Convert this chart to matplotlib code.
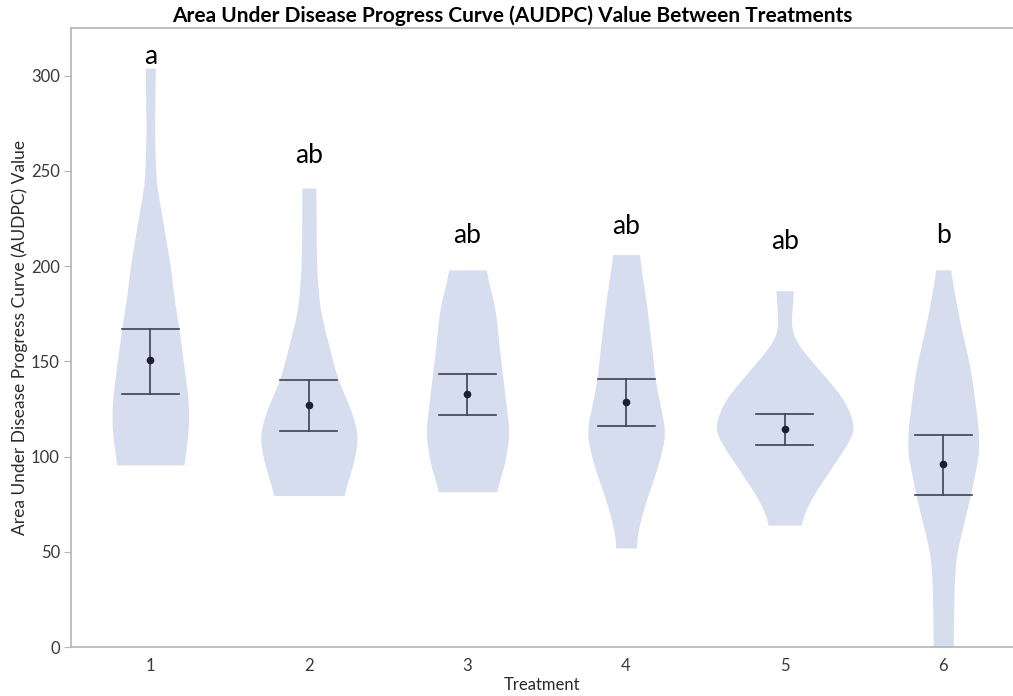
import numpy as np
import matplotlib
matplotlib.use("Agg")
import matplotlib.pyplot as plt

# Treatments and summary statistics (AUDPC)
treatments = [1, 2, 3, 4, 5, 6]
means = [150.5, 127.0, 133.0, 128.5, 114.5, 96.0]
upper = [167.0, 140.0, 143.5, 140.5, 122.5, 111.5]
lower = [133.0, 113.5, 122.0, 116.0, 106.0, 80.0]
letters = ["a", "ab", "ab", "ab", "ab", "b"]
letter_y = [306, 254, 212, 217, 209, 212]

# Density profiles for each violin: AUDPC value and relative half-width
t1_vals = [95.6, 103.5, 117.7, 129.8, 150, 167, 182, 200, 226, 244, 270, 304]
t1_dens = [33, 36, 38.7, 38, 33, 28.7, 24, 20, 11.7, 5.7, 4.2, 5]
t2_vals = [79.5, 93, 110.5, 125, 140, 156, 177, 200, 241]
t2_dens = [34, 43, 50, 42, 29, 21, 11, 7.5, 7]
t3_vals = [81.5, 95, 112, 130, 156, 177, 190, 198]
t3_dens = [28, 37, 42, 38, 32, 28, 22, 18]
t4_vals = [52, 60, 77, 95, 112, 140, 156, 182, 206]
t4_dens = [10, 11, 20, 32, 40, 29, 26, 20, 13]
t5_vals = [64, 77, 95, 114, 130, 147, 158, 165, 175, 187]
t5_dens = [15, 25, 48, 72, 60, 32, 14, 6, 7, 9]
t6_vals = [0, 31.5, 49, 75.7, 102, 115.6, 145.5, 172, 198]
t6_dens = [10, 10.7, 13, 25.5, 36, 35, 27.5, 16, 7]

profiles = [(t1_vals, t1_dens), (t2_vals, t2_dens), (t3_vals, t3_dens),
            (t4_vals, t4_dens), (t5_vals, t5_dens), (t6_vals, t6_dens)]

SPACING_PX = 158.6  # pixel width of one category, used to scale the densities


def smooth_outline(vals, dens, n=400, sigma=5.0):
    """Piecewise-linear density profile softened with a Gaussian kernel."""
    yy = np.linspace(vals[0], vals[-1], n)
    w = np.interp(yy, vals, dens)
    step = yy[1] - yy[0]
    k = int(np.ceil(3 * sigma / step))
    kern = np.exp(-0.5 * (np.arange(-k, k + 1) * step / sigma) ** 2)
    kern /= kern.sum()
    padded = np.concatenate([np.full(k, w[0]), w, np.full(k, w[-1])])
    ws = np.convolve(padded, kern, mode="valid")
    return yy, ws


fig = plt.figure(figsize=(10.13, 6.96), dpi=100)
ax = fig.add_axes([0.0701, 0.0704, 0.9299, 0.8894])

fill_color = "#d5ddef"
line_color = "#3d4350"
text_font = ["Lato", "DejaVu Sans"]

for pos, (vals, dens) in zip(treatments, profiles):
    yy, w = smooth_outline(vals, dens)
    half = w / SPACING_PX
    ax.fill_betweenx(yy, pos - half, pos + half, color=fill_color, lw=0, zorder=1)

cap = 0.18
for pos, m, lo, hi in zip(treatments, means, lower, upper):
    ax.plot([pos, pos], [lo, hi], color=line_color, lw=1.2, zorder=2)
    ax.plot([pos - cap, pos + cap], [hi, hi], color=line_color, lw=1.2, zorder=2)
    ax.plot([pos - cap, pos + cap], [lo, lo], color=line_color, lw=1.2, zorder=2)
    ax.plot(pos, m, "o", color="#1b2030", ms=4.5, zorder=3)

for pos, lab, ly in zip(treatments, letters, letter_y):
    ax.text(pos, ly, lab, ha="center", va="baseline", fontsize=19,
            family=text_font, color="black")

ax.set_xlim(0.5, 6.44)
ax.set_ylim(0, 325)
ax.set_xticks(treatments)
ax.set_xticklabels([str(t) for t in treatments])
ax.set_yticks([0, 50, 100, 150, 200, 250, 300])

for side in ["left", "bottom", "top"]:
    ax.spines[side].set_color("#b4b4b4")
    ax.spines[side].set_linewidth(1.2)
ax.spines["right"].set_visible(False)

ax.tick_params(axis="y", length=5, color="#b4b4b4", labelsize=12,
               labelcolor="#3a3a3a", pad=3)
ax.tick_params(axis="x", length=0, labelsize=12, labelcolor="#3a3a3a", pad=8)
for lab in ax.get_xticklabels() + ax.get_yticklabels():
    lab.set_family(text_font)

ax.set_xlabel("Treatment", fontsize=12, family=text_font, color="#2a2a2a", labelpad=2)
ax.set_ylabel("Area Under Disease Progress Curve (AUDPC) Value", fontsize=12.5,
              family=text_font, color="#2a2a2a", labelpad=2)

fig.text(0.5055, 0.978, "Area Under Disease Progress Curve (AUDPC) Value Between Treatments",
         ha="center", va="center", fontsize=15, fontweight="bold", family=text_font)

fig.savefig("out.png", dpi=100)
